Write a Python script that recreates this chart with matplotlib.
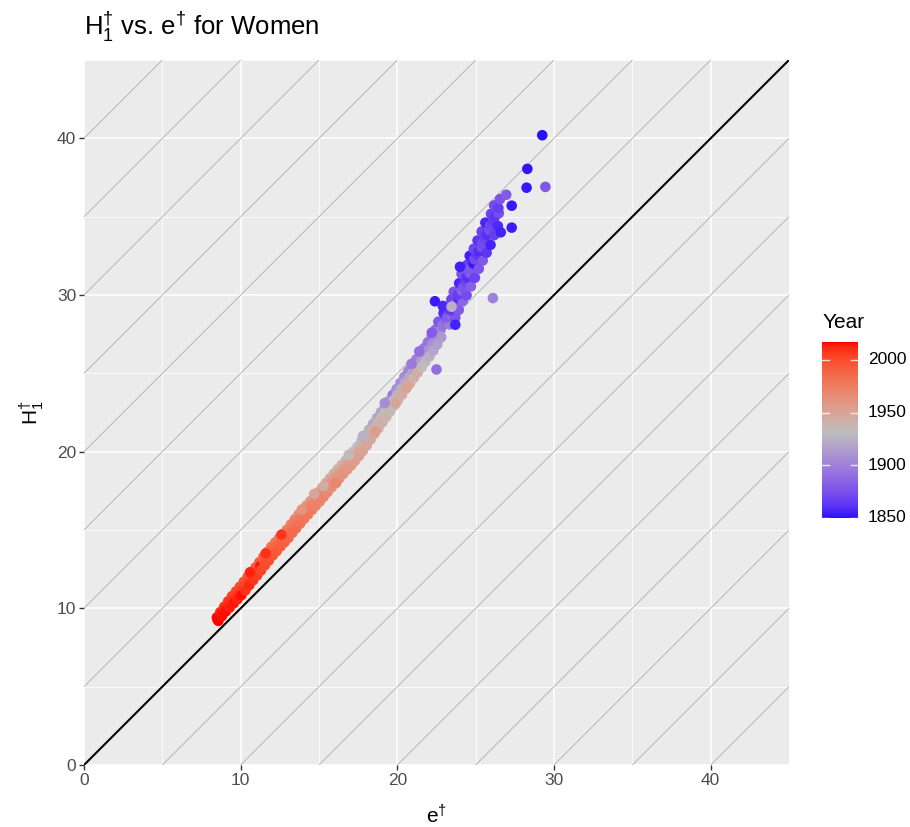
import numpy as np
import matplotlib
matplotlib.use("Agg")
import matplotlib.pyplot as plt
from matplotlib.colors import ListedColormap, Normalize

plt.rcParams["font.family"] = ["Liberation Sans", "DejaVu Sans"]
plt.rcParams["mathtext.fontset"] = "custom"
plt.rcParams["mathtext.rm"] = "Liberation Sans"
plt.rcParams["mathtext.it"] = "Liberation Sans:italic"

# ---- data: life disparity e-dagger, H1-dagger and calendar year ----
e_dagger = [
    8.48, 8.52, 8.58, 8.70, 8.75, 8.80, 8.95, 9.00, 9.05,
    9.20, 9.25, 9.30, 9.45, 9.50, 9.55, 9.70, 9.75, 9.80,
    9.95, 10.00, 10.05, 10.20, 10.25, 10.30, 10.45, 10.50, 10.55,
    10.70, 10.75, 10.80, 10.95, 11.00, 11.05, 11.20, 11.25, 11.30,
    11.45, 11.50, 11.55, 11.70, 11.75, 11.80, 11.95, 12.00, 12.05,
    12.20, 12.25, 12.30, 12.45, 12.50, 12.55, 12.70, 12.75, 12.80,
    12.95, 13.00, 13.05, 13.20, 13.25, 13.30, 13.45, 13.50, 13.55,
    13.70, 13.75, 13.80, 13.95, 14.00, 14.05, 14.20, 14.25, 14.30,
    14.45, 14.50, 14.55, 14.70, 14.75, 14.80, 14.95, 15.00, 15.05,
    15.20, 15.25, 15.30, 15.45, 15.50, 15.55, 15.70, 15.75, 15.80,
    15.95, 16.00, 16.05, 16.20, 16.25, 16.30, 16.45, 16.50, 16.55,
    16.70, 16.75, 16.80, 16.95, 17.00, 17.05, 17.20, 17.25, 17.30,
    17.45, 17.50, 17.55, 17.70, 17.75, 17.80, 17.95, 18.00, 18.05,
    18.20, 18.25, 18.30, 18.45, 18.50, 18.55, 18.70, 18.75, 18.80,
    18.95, 19.00, 19.05, 19.20, 19.25, 19.30, 19.45, 19.50, 19.55,
    19.70, 19.75, 19.80, 19.95, 20.00, 20.05,
    20.20, 20.25, 20.30, 20.45, 20.50, 20.55, 20.70, 20.75, 20.80,
    20.95, 21.00, 21.05, 21.20, 21.25, 21.30, 21.45, 21.50, 21.55,
    21.70, 21.75, 21.80, 21.95, 22.00, 22.05, 22.20, 22.25, 22.30,
    22.45, 22.50, 22.55, 22.70, 22.75, 22.80,
    12.60, 13.90, 15.30, 16.90, 17.80, 18.60, 19.20, 19.90,
    20.60, 21.40, 22.20, 10.60, 11.60, 14.70, 16.10, 20.90,
    22.62, 22.88, 23.12, 23.36, 22.95, 23.18, 23.44, 23.70,
    23.10, 23.38, 23.62, 23.92, 23.45, 23.70, 23.88, 24.18,
    23.60, 23.86, 24.12, 24.42, 23.95, 24.20, 24.38, 24.70,
    24.10, 24.44, 24.62, 24.95, 24.45, 24.68, 24.86, 25.20,
    24.62, 24.92, 25.12, 25.45, 24.88, 25.18, 25.38, 25.70,
    25.12, 25.42, 25.62, 25.95, 25.38, 25.70, 25.88, 26.18,
    25.62, 25.92, 26.12, 26.42, 25.98, 26.22, 26.48,
    26.18, 26.45, 26.55, 26.95, 24.00, 26.60,
    22.40, 22.90, 23.70, 22.50, 26.10, 27.30, 27.30, 28.25,
    28.30, 29.25, 29.45, 23.46,
]

h1_dagger = [
    9.42, 9.28, 9.20, 9.76, 9.62, 9.50, 10.10, 9.95, 9.80,
    10.45, 10.25, 10.05, 10.78, 10.55, 10.32, 11.08, 10.83, 10.58,
    11.38, 11.10, 10.85, 11.70, 11.42, 11.15, 12.02, 11.75, 11.48,
    12.32, 12.05, 11.80, 12.62, 12.35, 12.10, 12.95, 12.68, 12.42,
    13.28, 13.00, 12.75, 13.60, 13.32, 13.05, 13.92, 13.65, 13.38,
    14.20, 13.92, 13.65, 14.48, 14.20, 13.95, 14.75, 14.48, 14.22,
    15.02, 14.75, 14.50, 15.35, 15.08, 14.82, 15.68, 15.40, 15.12,
    15.98, 15.70, 15.42, 16.28, 16.00, 15.72, 16.56, 16.28, 16.00,
    16.84, 16.55, 16.28, 17.10, 16.83, 16.55, 17.40, 17.10, 16.82,
    17.70, 17.40, 17.12, 18.00, 17.70, 17.42, 18.30, 18.00, 17.72,
    18.60, 18.30, 18.02, 18.88, 18.58, 18.30, 19.15, 18.85, 18.58,
    19.42, 19.12, 18.85, 19.70, 19.40, 19.12, 20.00, 19.70, 19.42,
    20.32, 20.00, 19.72, 20.68, 20.35, 20.05, 21.02, 20.70, 20.40,
    21.40, 21.08, 20.78, 21.78, 21.45, 21.15, 22.15, 21.82, 21.50,
    22.52, 22.20, 21.88, 22.88, 22.55, 22.22, 23.22, 22.90, 22.58,
    23.62, 23.28, 22.95, 24.00, 23.65, 23.30,
    24.40, 24.02, 23.65, 24.78, 24.40, 24.02, 25.15, 24.75, 24.35,
    25.52, 25.10, 24.70, 25.88, 25.45, 25.05, 26.25, 25.80, 25.40,
    26.60, 26.15, 25.75, 26.98, 26.50, 26.08, 27.38, 26.90, 26.45,
    27.80, 27.30, 26.85, 28.25, 27.75, 27.30,
    14.70, 16.30, 17.80, 19.80, 21.00, 21.30, 23.10, 23.10,
    24.10, 26.40, 27.60, 12.30, 13.50, 17.30, 18.00, 25.60,
    28.30, 28.05, 28.42, 28.12, 28.85, 28.60, 28.78, 28.55,
    29.25, 29.02, 29.30, 29.05, 29.72, 29.48, 29.80, 29.62,
    30.20, 30.02, 30.28, 29.98, 30.75, 30.52, 30.82, 30.55,
    31.35, 31.12, 31.40, 31.10, 31.92, 31.70, 32.00, 31.68,
    32.50, 32.28, 32.55, 32.20, 32.95, 32.78, 33.05, 32.70,
    33.48, 33.30, 33.55, 33.20, 34.05, 33.85, 34.15, 33.82,
    34.62, 34.42, 34.70, 34.40, 35.18, 34.98, 35.22,
    35.72, 35.55, 36.12, 36.40, 31.80, 34.00,
    29.60, 29.30, 28.10, 25.25, 29.80, 34.30, 35.70, 36.85,
    38.05, 40.20, 36.90, 29.25,
]

year = [
    2016, 2017, 2017, 2013, 2015, 2016, 2010, 2013, 2016,
    2008, 2011, 2014, 2005, 2010, 2015, 2002, 2008, 2013,
    2000, 2006, 2016, 1998, 2004, 2010, 1996, 2002, 2012,
    1994, 2000, 2009, 1992, 1999, 2006, 1995, 2015, 2003,
    1990, 1995, 2001, 1987, 1993, 1999, 1985, 1991, 1997,
    1982, 1989, 1995, 1980, 1987, 1993, 1977, 1985, 1991,
    1975, 1983, 1989, 1972, 1980, 1986, 1970, 1978, 1984,
    1967, 1976, 1982, 1965, 1974, 1980, 1962, 1972, 1978,
    1960, 1970, 1976, 1958, 1968, 1974, 1956, 1966, 1972,
    1953, 1964, 1970, 1951, 1962, 1968, 1948, 1960, 1966,
    1945, 1958, 1964, 1942, 1956, 1962, 1940, 1955, 1961,
    1938, 1953, 1959, 1936, 1951, 1957, 1934, 1949, 1955,
    1932, 1947, 1953, 1930, 1945, 1951, 1928, 1943, 1949,
    1925, 1941, 1947, 1922, 1939, 1945, 1920, 1937, 1943,
    1918, 1935, 1941, 1916, 1933, 1939, 1912, 1931, 1937,
    1898, 1929, 1935, 1908, 1927, 1938,
    1906, 1925, 1945, 1905, 1922, 1942, 1903, 1920, 1948,
    1901, 1918, 1940, 1899, 1916, 1945, 1897, 1914, 1936,
    1895, 1912, 1930, 1893, 1910, 1925, 1891, 1907, 1920,
    1889, 1905, 1915, 1887, 1902, 1912,
    2008, 1960, 1945, 1935, 1925, 1955, 1905, 1950,
    1952, 1890, 1880, 2013, 2010, 1950, 1970, 1895,
    1878, 1892, 1884, 1896, 1858, 1880, 1889, 1876,
    1872, 1864, 1885, 1878, 1868, 1882, 1858, 1886,
    1876, 1866, 1884, 1872, 1856, 1876, 1870, 1882,
    1874, 1860, 1880, 1868, 1866, 1878, 1852, 1876,
    1854, 1872, 1864, 1878, 1870, 1858, 1874, 1862,
    1862, 1872, 1868, 1855, 1868, 1860, 1874, 1866,
    1856, 1870, 1865, 1858, 1868, 1862, 1874,
    1872, 1866, 1876, 1880, 1854, 1855,
    1853, 1857, 1855, 1890, 1900, 1853, 1852, 1852,
    1851, 1850, 1878, 1925,
]

year_range = (1850, 2017)
year_mid = 1932
legend_breaks = [1850, 1900, 1950, 2000]


# ---- diverging blue / grey / red palette interpolated in CIELAB ----
def srgb_to_lab(rgb):
    rgb = np.asarray(rgb, float)
    lin = np.where(rgb <= 0.04045, rgb / 12.92, ((rgb + 0.055) / 1.055) ** 2.4)
    m = np.array([[0.4124, 0.3576, 0.1805],
                  [0.2126, 0.7152, 0.0722],
                  [0.0193, 0.1192, 0.9505]])
    xyz = m @ lin / np.array([0.95047, 1.0, 1.08883])
    f = np.where(xyz > 0.008856, np.cbrt(xyz), 7.787 * xyz + 16 / 116)
    return np.array([116 * f[1] - 16, 500 * (f[0] - f[1]), 200 * (f[1] - f[2])])


def lab_to_srgb(lab):
    L, a, b = lab
    fy = (L + 16) / 116
    fx = fy + a / 500
    fz = fy - b / 200
    f = np.array([fx, fy, fz])
    xyz = np.where(f ** 3 > 0.008856, f ** 3, (f - 16 / 116) / 7.787)
    xyz = xyz * np.array([0.95047, 1.0, 1.08883])
    minv = np.array([[3.2406, -1.5372, -0.4986],
                     [-0.9689, 1.8758, 0.0415],
                     [0.0557, -0.2040, 1.0570]])
    lin = minv @ xyz
    rgb = np.where(lin <= 0.0031308, 12.92 * lin,
                   1.055 * np.clip(lin, 0, None) ** (1 / 2.4) - 0.055)
    return np.clip(rgb, 0, 1)


low = srgb_to_lab([0, 0, 1])
mid = srgb_to_lab([0.745, 0.745, 0.745])
high = srgb_to_lab([1, 0, 0])
ramp = []
for t in np.linspace(0, 1, 512):
    if t <= 0.5:
        lab = low + (mid - low) * (t / 0.5)
    else:
        lab = mid + (high - mid) * ((t - 0.5) / 0.5)
    ramp.append(lab_to_srgb(lab))
cmap = ListedColormap(ramp)

half = max(year_mid - year_range[0], year_range[1] - year_mid)
norm = Normalize(vmin=year_mid - half, vmax=year_mid + half)

# ---- figure ----
W, H = 910, 827
fig = plt.figure(figsize=(W / 100, H / 100), dpi=100)
px_l, px_r, px_t, px_b = 84, 789, 60, 765
ax = fig.add_axes([px_l / W, 1 - px_b / H, (px_r - px_l) / W, (px_b - px_t) / H])
ax.set_facecolor("#EBEBEB")
ax.set_xlim(0, 45)
ax.set_ylim(0, 45)
for s in ax.spines.values():
    s.set_visible(False)

ticks = [0, 10, 20, 30, 40]
ax.set_xticks(ticks)
ax.set_yticks(ticks)
ax.set_xticks([5, 15, 25, 35, 45], minor=True)
ax.set_yticks([5, 15, 25, 35, 45], minor=True)
ax.grid(which="major", color="white", lw=1.1)
ax.grid(which="minor", color="white", lw=0.55)
ax.set_axisbelow(True)
ax.tick_params(which="major", length=3.5, width=1.0, color="#333333",
               labelcolor="#4D4D4D", labelsize=12.5, pad=2)
ax.tick_params(which="minor", length=0)

# reference lines of constant difference H - e
for c in range(-45, 50, 5):
    if c == 0:
        continue
    ax.axline((0, c), slope=1, color="#A8A8A8", lw=0.55, zorder=1)
ax.axline((0, 0), slope=1, color="black", lw=1.5, zorder=2)

ax.scatter(e_dagger, h1_dagger, c=year, cmap=cmap, norm=norm, s=58,
           linewidths=0, zorder=3)

ax.set_xlabel(r"$\mathregular{e^{\dagger}}$", fontsize=15, labelpad=12)
ax.set_ylabel(r"$\mathregular{H_1^{\dagger}}$", fontsize=15, labelpad=8)

fig.text(px_l / W, 1 - 35 / H,
         r"$\mathregular{H_1^{\dagger}}$ vs. $\mathregular{e^{\dagger}}$ for Women",
         fontsize=18.5, ha="left", va="baseline")

# ---- colour bar legend ----
cb_l, cb_r, cb_t, cb_b = 822, 858, 342, 518
cax = fig.add_axes([cb_l / W, 1 - cb_b / H, (cb_r - cb_l) / W, (cb_b - cb_t) / H])
grad = np.linspace(year_range[0], year_range[1], 300).reshape(-1, 1)
cax.imshow(grad, aspect="auto", cmap=cmap, norm=norm, origin="lower",
           extent=(0, 1, year_range[0], year_range[1]))
cax.set_xlim(0, 1)
cax.set_ylim(year_range[0], year_range[1])
for b in legend_breaks:
    cax.plot([0, 0.2], [b, b], color="white", lw=1.0, alpha=0.8)
    cax.plot([0.8, 1], [b, b], color="white", lw=1.0, alpha=0.8)
cax.set_xticks([])
cax.set_yticks([])
for s in cax.spines.values():
    s.set_visible(False)
for b in legend_breaks:
    cax.text(1.28, b, str(b), transform=cax.get_yaxis_transform(),
             fontsize=12.5, ha="left", va="center", color="black")
fig.text(823 / W, 1 - 328 / H, "Year", fontsize=15, ha="left", va="baseline")

fig.savefig("out.png", dpi=100)
